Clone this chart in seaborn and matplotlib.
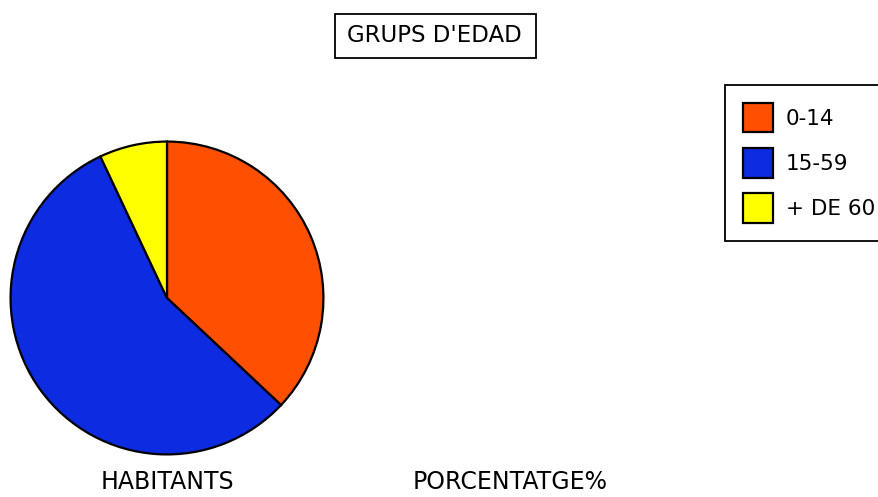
import matplotlib
matplotlib.use("Agg")
import matplotlib.pyplot as plt
import seaborn as sns
from matplotlib.patches import Rectangle

categories = ["0-14", "15-59", "+ DE 60"]
values = [37, 56, 7]
colors = ["#FF4F00", "#0D2BE0", "#FFFF00"]
title = "GRUPS D'EDAD"
bottom_labels = ["HABITANTS", "PORCENTATGE%"]

sns.set_theme(style="white")
plt.rcParams['font.family'] = ['DejaVu Sans']
plt.rcParams['text.color'] = 'black'

W, H = 879, 497
fig = plt.figure(figsize=(W / 100, H / 100), dpi=100)
fig.patch.set_facecolor("white")

cx, cy, r = 167, 298, 158
ax = fig.add_axes([(cx - r) / W, (H - cy - r) / H, 2 * r / W, 2 * r / H])
wedges, _ = ax.pie(values, colors=colors, startangle=90, counterclock=False,
                   radius=1, wedgeprops=dict(edgecolor="black", linewidth=1.6))
ax.set_xlim(-1.01, 1.01)
ax.set_ylim(-1.01, 1.01)
ax.set_aspect("equal")
ax.axis("off")

# title box
fig.patches.append(Rectangle((335 / W, 1 - 58 / H), 201 / W, 44 / H,
                             transform=fig.transFigure, fill=False,
                             edgecolor="black", linewidth=1.3))
fig.text(434 / W, 1 - 36 / H, title, ha="center", va="center", fontsize=16.5)

leg = fig.legend(wedges, categories, loc="upper left",
                 bbox_to_anchor=(725 / W, 1 - 85 / H), borderaxespad=0,
                 frameon=True, fancybox=False, edgecolor="black", framealpha=1,
                 fontsize=15.5, handlelength=1.4, handleheight=1.75,
                 handletextpad=0.6, labelspacing=0.72, borderpad=0.82)
leg.get_frame().set_linewidth(1.3)
for t in leg.get_texts():
    t.set_color("black")

fig.text(167 / W, 1 - 482 / H, bottom_labels[0], ha="center", va="center", fontsize=17)
fig.text(510 / W, 1 - 482 / H, bottom_labels[1], ha="center", va="center", fontsize=17)

fig.savefig("out.png", dpi=100)
